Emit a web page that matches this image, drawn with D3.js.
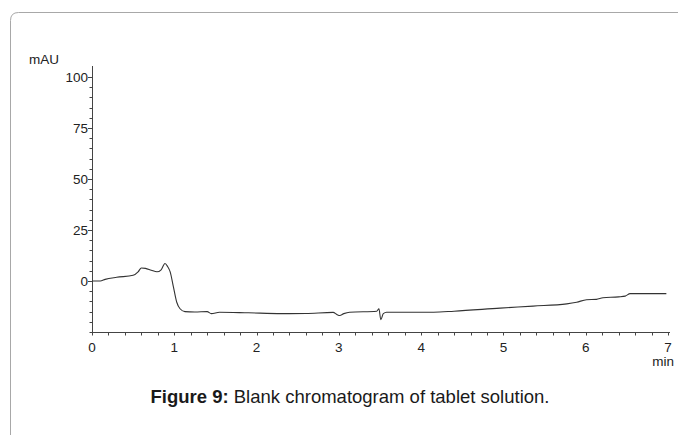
<!DOCTYPE html>
<html>
<head>
<meta charset="utf-8">
<script src="https://cdn.jsdelivr.net/npm/d3@7"></script>
<style>
  html, body { margin: 0; padding: 0; background: #fff; }
  svg { display: block; font-family: "Liberation Sans", Arial, sans-serif; }
</style>
</head>
<body>
<svg id="chart" width="678" height="435"></svg>
<script>
// Retention time (min) and detector signal (mAU) of the blank run
const time = [0, 0.1, 0.16, 0.3, 0.5, 0.56, 0.6, 0.65, 0.72, 0.79, 0.84, 0.887, 0.92, 0.95,
  0.99, 1.03, 1.07, 1.13, 1.25, 1.4, 1.45, 1.55, 1.9, 2.3, 2.6, 2.93, 2.98, 3.01, 3.06, 3.13,
  3.46, 3.487, 3.51, 3.54, 3.58, 4.15, 4.4, 4.96, 5.36, 5.77, 5.89, 6.01, 6.13, 6.21, 6.4,
  6.48, 6.54, 6.98];
const signal = [0, 0, 0.8, 1.8, 2.8, 4.5, 6.4, 6.2, 5.3, 4.5, 5.5, 8.6, 7, 4.5,
  -3, -10.4, -13.6, -15, -15.2, -15, -16, -15.3, -15.6, -16, -15.9, -15.4, -16.5, -16.9, -16, -15.3,
  -14.8, -13.6, -19, -16, -15.3, -15.3, -14.8, -13.3, -12.3, -11.2, -10.4, -9.2, -9, -8.2, -7.8,
  -7.4, -6.2, -6.2];

const xTicks = [0, 1, 2, 3, 4, 5, 6, 7];
const yTicks = [0, 25, 50, 75, 100];
const yMinorTicks = d3.range(-25, 101, 5);
const xMinorTicks = d3.range(0, 7.01, 0.2);
const yLabel = "mAU";
const xLabel = "min";
const captionBold = "Figure 9:";
const captionText = " Blank chromatogram of tablet solution.";

const svg = d3.select("#chart");

// panel frame with rounded top-left corner
svg.append("path")
  .attr("d", "M10.5,435 L10.5,20.5 Q10.5,12.5 18.5,12.5 L678,12.5")
  .attr("fill", "none")
  .attr("stroke", "#a8a8a8")
  .attr("stroke-width", 1);

const x = d3.scaleLinear().domain([0, 7]).range([92, 668]);
const y = d3.scaleLinear().domain([0, 100]).range([281, 77]);
const axisY0 = 332;   // baseline of the time axis
const yTop = 66;
const labelSize = 13.5;

const axisColor = "#444";

// y axis line
const gy = svg.append("g").attr("transform", `translate(${x(0)},0)`);
gy.append("line")
  .attr("x1", 0.5).attr("x2", 0.5)
  .attr("y1", yTop).attr("y2", axisY0)
  .attr("stroke", axisColor);
gy.selectAll("line.minor").data(yMinorTicks).join("line")
  .attr("class", "minor")
  .attr("x1", d => yTicks.includes(d) ? -4 : -2.5).attr("x2", 0.5)
  .attr("y1", d => Math.round(y(d)) + 0.5).attr("y2", d => Math.round(y(d)) + 0.5)
  .attr("stroke", axisColor);
gy.selectAll("text").data(yTicks).join("text")
  .attr("x", -4).attr("y", d => y(d))
  .attr("dy", "0.35em")
  .attr("text-anchor", "end")
  .attr("font-size", labelSize)
  .attr("fill", "#222")
  .text(d => d);

// x axis
const gx = svg.append("g").attr("transform", `translate(0,${axisY0})`);
gx.append("line")
  .attr("x1", x(0)).attr("x2", x(7) + 2)
  .attr("y1", 0.5).attr("y2", 0.5)
  .attr("stroke", axisColor);
gx.selectAll("line.tick").data(xMinorTicks).join("line")
  .attr("class", "tick")
  .attr("x1", d => Math.round(x(d)) + 0.5).attr("x2", d => Math.round(x(d)) + 0.5)
  .attr("y1", 0.5).attr("y2", 3.5)
  .attr("stroke", axisColor);
gx.selectAll("text").data(xTicks).join("text")
  .attr("x", d => x(d)).attr("y", 20)
  .attr("text-anchor", "middle")
  .attr("font-size", labelSize)
  .attr("fill", "#222")
  .text(d => d);

// axis titles
svg.append("text")
  .attr("x", 29).attr("y", 64)
  .attr("font-size", labelSize)
  .attr("fill", "#222")
  .text(yLabel);
svg.append("text")
  .attr("x", 674).attr("y", 366)
  .attr("text-anchor", "end")
  .attr("font-size", labelSize)
  .attr("fill", "#222")
  .text(xLabel);

// chromatogram trace
const pts = time.map((t, i) => [t, signal[i]]);
const line = d3.line()
  .x(d => x(d[0]))
  .y(d => y(d[1]))
  .curve(d3.curveMonotoneX);
svg.append("path")
  .datum(pts)
  .attr("d", line)
  .attr("fill", "none")
  .attr("stroke", "#333")
  .attr("stroke-width", 1.1);

// caption
const cap = svg.append("text")
  .attr("x", 350).attr("y", 403)
  .attr("text-anchor", "middle")
  .attr("font-size", 18.5)
  .attr("fill", "#1a1a1a");
cap.append("tspan").attr("font-weight", "bold").text(captionBold);
cap.append("tspan").text(captionText);
</script>
</body>
</html>
